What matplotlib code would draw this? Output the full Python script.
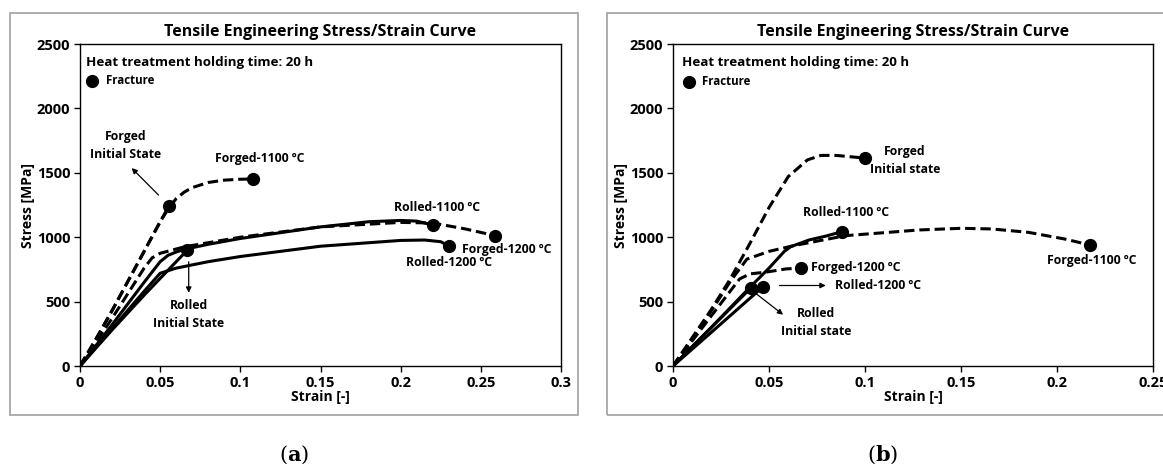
import matplotlib.pyplot as plt
from matplotlib.patches import Rectangle

# ---- data, panel (a) ----
a_forged_init_x = [0, 0.01, 0.02, 0.03, 0.04, 0.05, 0.0556]
a_forged_init_y = [0, 210, 430, 660, 890, 1120, 1245]
a_forged_1100_x = [0, 0.01, 0.02, 0.03, 0.04, 0.05, 0.055, 0.06, 0.065, 0.07, 0.08, 0.09, 0.1, 0.108]
a_forged_1100_y = [0, 210, 430, 660, 890, 1120, 1220, 1300, 1350, 1385, 1425, 1443, 1450, 1452]
a_forged_1200_x = [0, 0.02, 0.04, 0.045, 0.05, 0.065, 0.1, 0.15, 0.2, 0.22, 0.24, 0.259]
a_forged_1200_y = [0, 370, 760, 840, 875, 925, 1000, 1080, 1115, 1110, 1065, 1012]
a_rolled_init_x = [0, 0.02, 0.04, 0.06, 0.067]
a_rolled_init_y = [0, 280, 550, 810, 900]
a_rolled_1100_x = [0, 0.02, 0.04, 0.05, 0.055, 0.06, 0.065, 0.08, 0.1, 0.15, 0.18, 0.2, 0.21, 0.22]
a_rolled_1100_y = [0, 320, 650, 810, 860, 885, 905, 945, 990, 1080, 1120, 1130, 1125, 1095]
a_rolled_1200_x = [0, 0.02, 0.04, 0.05, 0.06, 0.08, 0.1, 0.15, 0.2, 0.215, 0.225, 0.23]
a_rolled_1200_y = [0, 290, 580, 720, 760, 810, 850, 930, 975, 978, 965, 932]

# ---- data, panel (b) ----
b_forged_init_x = [0, 0.01, 0.02, 0.03, 0.04, 0.05, 0.06, 0.07, 0.077, 0.085, 0.1]
b_forged_init_y = [0, 220, 440, 680, 950, 1230, 1470, 1600, 1635, 1635, 1614]
b_forged_1100_x = [0, 0.01, 0.02, 0.03, 0.0385, 0.05, 0.063, 0.09, 0.128, 0.15, 0.166, 0.185, 0.204, 0.217]
b_forged_1100_y = [0, 210, 430, 660, 830, 890, 935, 1012, 1056, 1069, 1064, 1038, 986, 940]
b_forged_1200_x = [0, 0.01, 0.02, 0.03, 0.0347, 0.04, 0.048, 0.059, 0.0667]
b_forged_1200_y = [0, 195, 390, 585, 676, 715, 728, 754, 759]
b_rolled_init_x = [0, 0.02, 0.0404]
b_rolled_init_y = [0, 300, 604]
b_rolled_1100_x = [0, 0.02, 0.04, 0.05, 0.058, 0.0614, 0.071, 0.08, 0.088]
b_rolled_1100_y = [0, 300, 610, 760, 890, 927, 979, 1010, 1043]
b_rolled_1200_x = [0, 0.02, 0.047]
b_rolled_1200_y = [0, 262, 617]

W, H = 1163, 471
fig = plt.figure(figsize=(W / 100, H / 100), dpi=100)
plt.rcParams['font.family'] = 'Open Sans'
plt.rcParams['mathtext.fontset'] = 'dejavuserif'

def fx(px):
    return px / W

def fy(py):
    return 1 - py / H

# outer panel borders
for x0, x1 in [(10, 578), (607, 1175)]:
    fig.patches.append(Rectangle((fx(x0), fy(415)), fx(x1 - x0), (415 - 13) / H,
                                 transform=fig.transFigure, fill=False,
                                 edgecolor='#a0a0a0', lw=1.2))

def style_axes(ax, xmax, xticks, xlabels):
    ax.set_xlim(0, xmax)
    ax.set_ylim(0, 2500)
    ax.set_xticks(xticks)
    ax.set_xticklabels(xlabels)
    ax.set_yticks([0, 500, 1000, 1500, 2000, 2500])
    ax.tick_params(direction='out', length=4, width=1, labelsize=10.5, pad=3)
    for lab in ax.get_xticklabels() + ax.get_yticklabels():
        lab.set_fontweight('bold')
    for s in ax.spines.values():
        s.set_linewidth(1)
    ax.set_title('Tensile Engineering Stress/Strain Curve', fontsize=11.5,
                 fontweight='bold', pad=6)
    ax.set_xlabel('Strain [-]', fontsize=10, fontweight='bold', labelpad=0)
    ax.set_ylabel('Stress [MPa]', fontsize=10, fontweight='bold', labelpad=1)

DASH = dict(color='black', lw=2.2, ls=(0, (3.4, 1.6)))
SOLID = dict(color='black', lw=2.2)
MK = dict(marker='o', color='black', markersize=8.5, ls='none')
TXT = dict(fontsize=8.8, fontweight='bold', ha='center', va='center')

# ---------------- panel (a) ----------------
ax1 = fig.add_axes([fx(80), fy(366), fx(481), (366 - 44) / H])
ax1.plot(a_forged_init_x, a_forged_init_y, **DASH)
ax1.plot(a_forged_1100_x, a_forged_1100_y, **DASH)
ax1.plot(a_forged_1200_x, a_forged_1200_y, **DASH)
ax1.plot(a_rolled_init_x, a_rolled_init_y, **SOLID)
ax1.plot(a_rolled_1100_x, a_rolled_1100_y, **SOLID)
ax1.plot(a_rolled_1200_x, a_rolled_1200_y, **SOLID)
for xs, ys in [(a_forged_init_x, a_forged_init_y), (a_forged_1100_x, a_forged_1100_y),
               (a_forged_1200_x, a_forged_1200_y), (a_rolled_init_x, a_rolled_init_y),
               (a_rolled_1100_x, a_rolled_1100_y), (a_rolled_1200_x, a_rolled_1200_y)]:
    ax1.plot(xs[-1], ys[-1], **MK)
style_axes(ax1, 0.3, [0, 0.05, 0.1, 0.15, 0.2, 0.25, 0.3],
           ['0', '0.05', '0.1', '0.15', '0.2', '0.25', '0.3'])

ax1.text(0.0035, 2360, 'Heat treatment holding time: 20 h', fontsize=9.6,
         fontweight='bold', va='center')
ax1.plot(0.0076, 2213, **MK)
ax1.text(0.016, 2213, 'Fracture', fontsize=8.3, fontweight='bold', va='center')

ax1.annotate('', xy=(0.031, 1552), xytext=(0.0502, 1312),
             arrowprops=dict(arrowstyle='-|>', color='black', lw=0.9, mutation_scale=8))
ax1.text(0.0285, 1712, 'Forged\nInitial State', linespacing=1.5, **TXT)
ax1.annotate('', xy=(0.0678, 547), xytext=(0.0678, 831),
             arrowprops=dict(arrowstyle='-|>', color='black', lw=0.9, mutation_scale=8))
ax1.text(0.068, 398, 'Rolled\nInitial State', linespacing=1.5, **TXT)
ax1.text(0.112, 1609, 'Forged-1100 ºC', **TXT)
ax1.text(0.223, 1232, 'Rolled-1100 ºC', **TXT)
ax1.text(0.266, 901, 'Forged-1200 ºC', **TXT)
ax1.text(0.23, 806, 'Rolled-1200 ºC', **TXT)

# ---------------- panel (b) ----------------
ax2 = fig.add_axes([fx(673), fy(366), fx(480), (366 - 44) / H])
ax2.plot(b_forged_init_x, b_forged_init_y, **DASH)
ax2.plot(b_forged_1100_x, b_forged_1100_y, **DASH)
ax2.plot(b_forged_1200_x, b_forged_1200_y, **DASH)
ax2.plot(b_rolled_init_x, b_rolled_init_y, **SOLID)
ax2.plot(b_rolled_1100_x, b_rolled_1100_y, **SOLID)
ax2.plot(b_rolled_1200_x, b_rolled_1200_y, **SOLID)
for xs, ys in [(b_forged_init_x, b_forged_init_y), (b_forged_1100_x, b_forged_1100_y),
               (b_forged_1200_x, b_forged_1200_y), (b_rolled_init_x, b_rolled_init_y),
               (b_rolled_1100_x, b_rolled_1100_y), (b_rolled_1200_x, b_rolled_1200_y)]:
    ax2.plot(xs[-1], ys[-1], **MK)
style_axes(ax2, 0.25, [0, 0.05, 0.1, 0.15, 0.2, 0.25],
           ['0', '0.05', '0.1', '0.15', '0.2', '0.25'])

ax2.text(0.0046, 2360, 'Heat treatment holding time: 20 h', fontsize=9.6,
         fontweight='bold', va='center')
ax2.plot(0.0084, 2208, **MK)
ax2.text(0.015, 2208, 'Fracture', fontsize=8.3, fontweight='bold', va='center')

ax2.text(0.1208, 1596, 'Forged\nInitial state', linespacing=1.5, **TXT)
ax2.text(0.09, 1188, 'Rolled-1100 ºC', **TXT)
ax2.text(0.0718, 762, 'Forged-1200 ºC', fontsize=8.8, fontweight='bold', va='center')
ax2.text(0.0842, 625, 'Rolled-1200 ºC', fontsize=8.8, fontweight='bold', va='center')
ax2.annotate('', xy=(0.081, 625), xytext=(0.054, 625),
             arrowprops=dict(arrowstyle='-|>', color='black', lw=0.9, mutation_scale=8))
ax2.annotate('', xy=(0.0585, 385), xytext=(0.0423, 573),
             arrowprops=dict(arrowstyle='-|>', color='black', lw=0.9, mutation_scale=8))
ax2.text(0.0747, 340, 'Rolled\nInitial state', linespacing=1.5, **TXT)
ax2.text(0.218, 818, 'Forged-1100 ºC', **TXT)

# panel letters
fig.text(fx(294), fy(455), r'($\mathbf{a}$)', fontsize=15, family='DejaVu Serif',
         ha='center', va='center')
fig.text(fx(883), fy(455), r'($\mathbf{b}$)', fontsize=15, family='DejaVu Serif',
         ha='center', va='center')

fig.savefig('out.png', dpi=100)
